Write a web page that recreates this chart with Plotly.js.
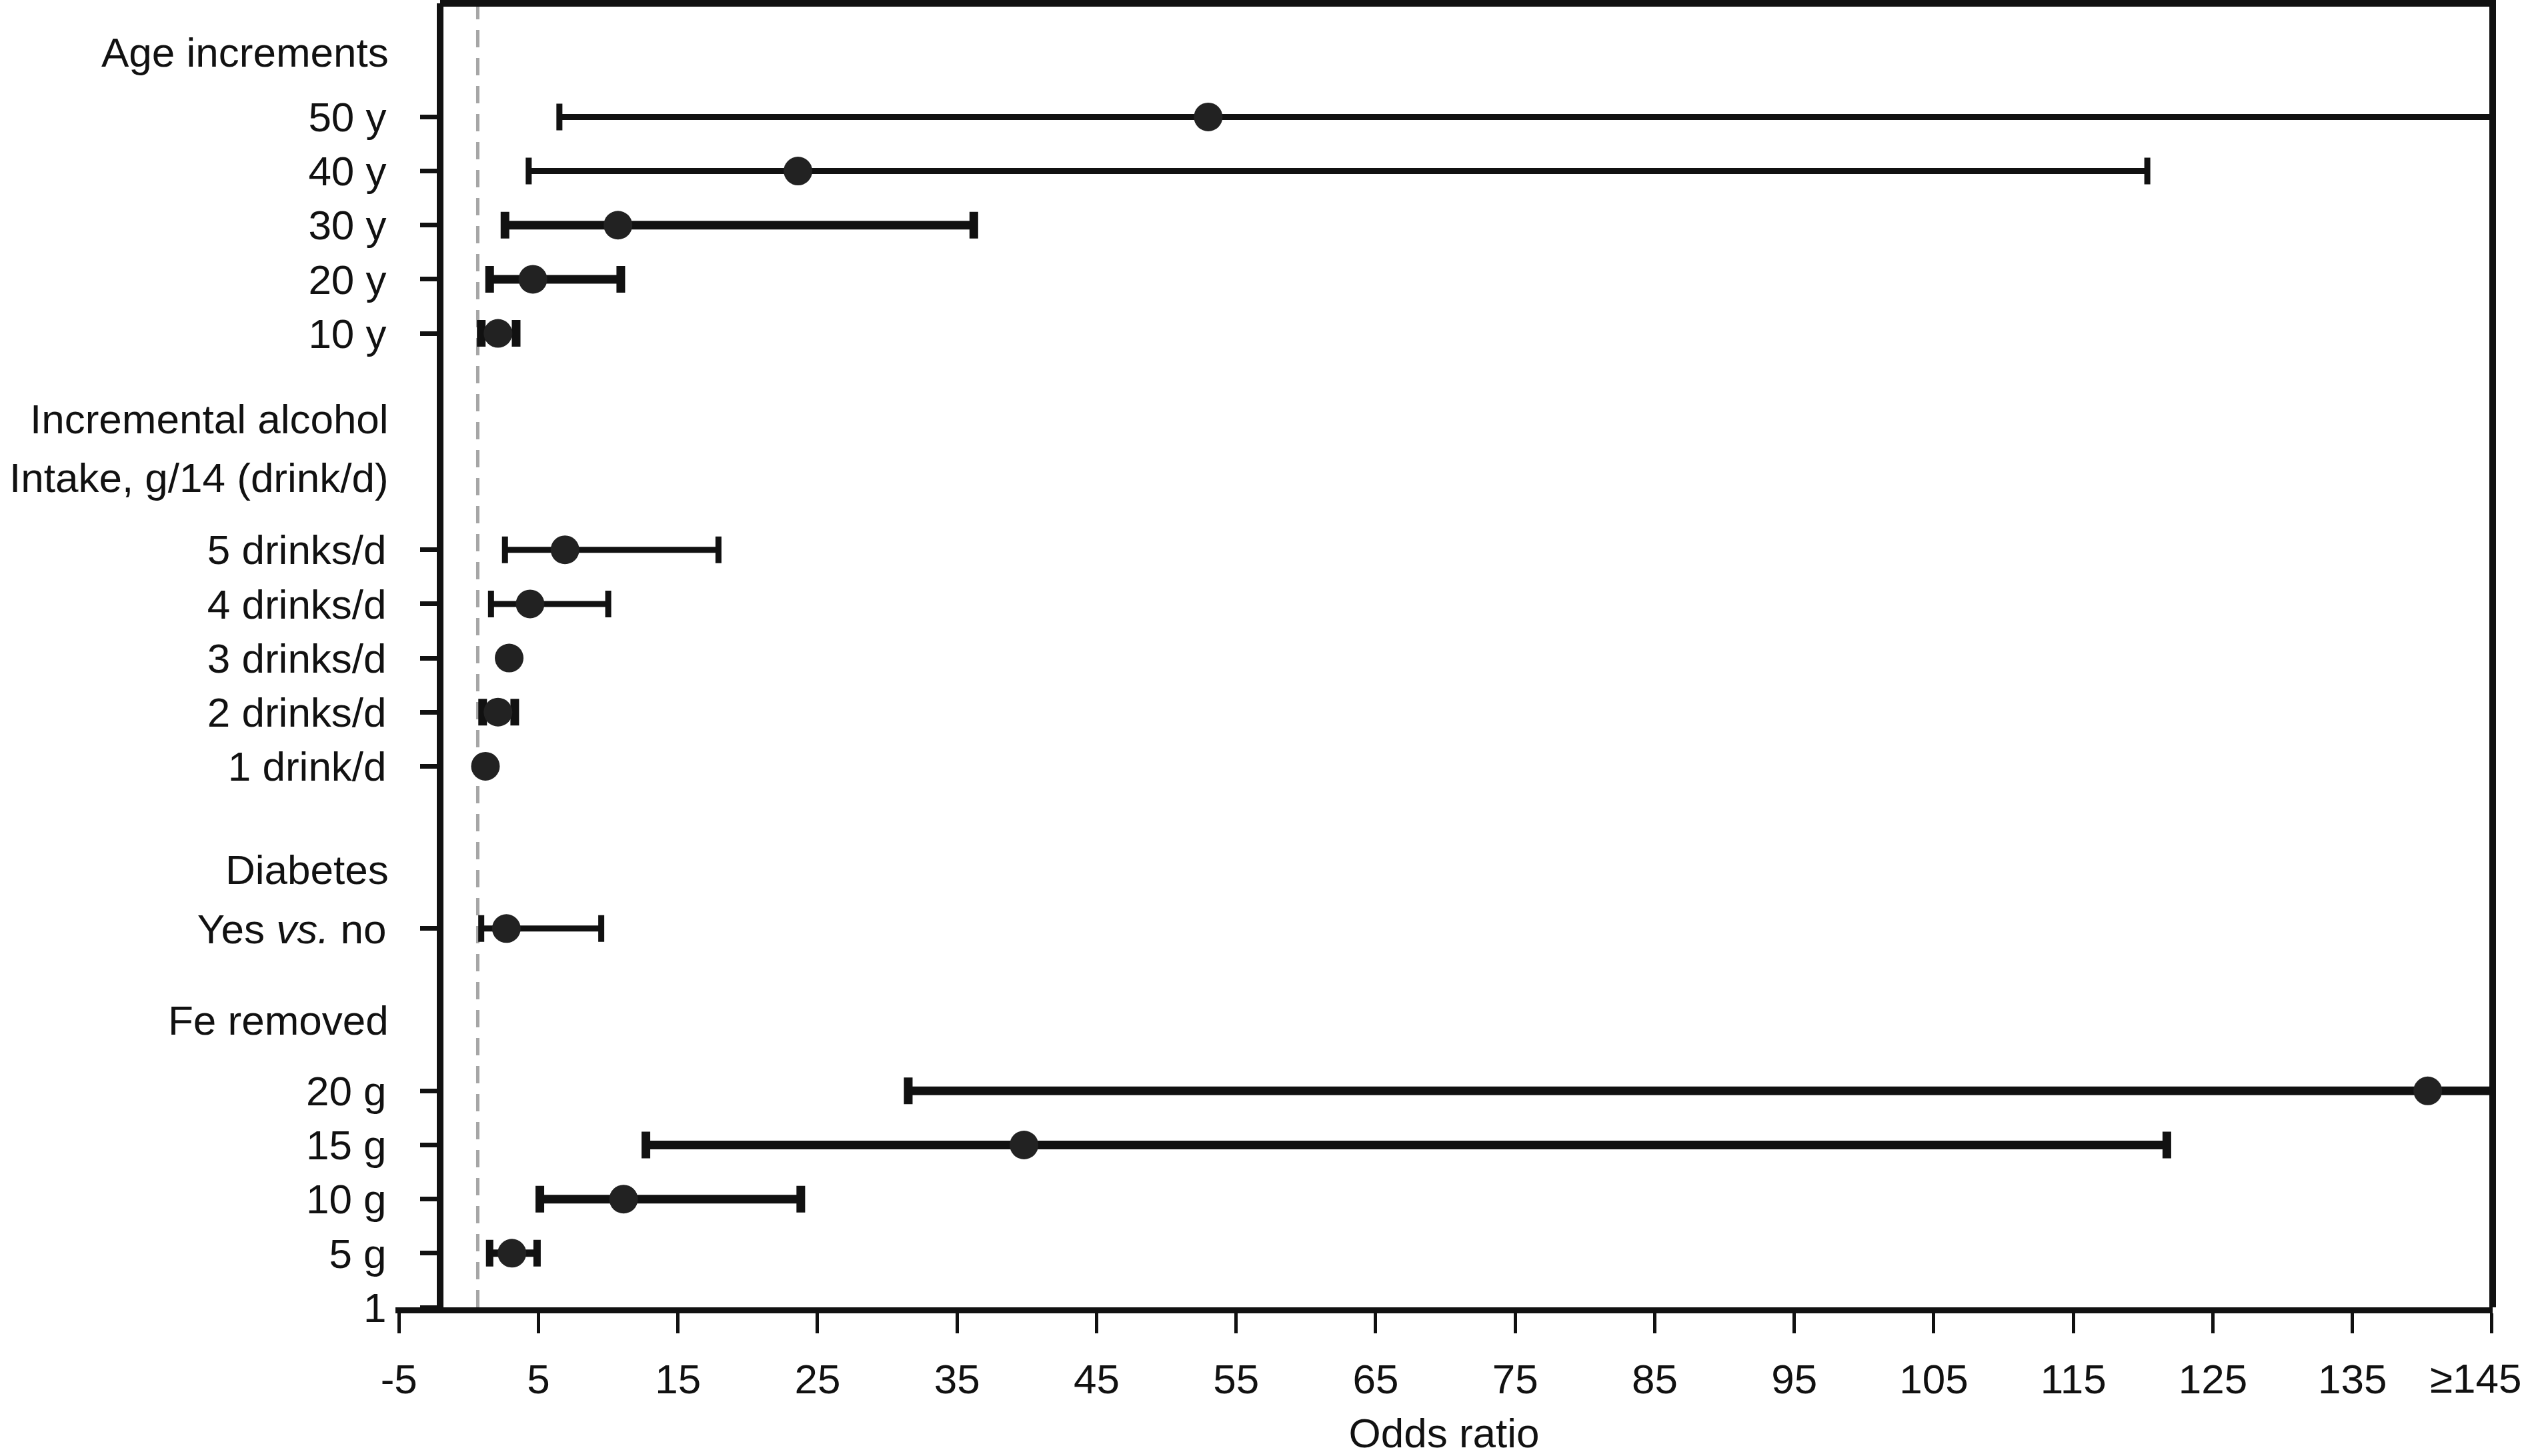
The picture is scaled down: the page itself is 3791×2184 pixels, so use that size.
<!DOCTYPE html>
<html>
<head>
<meta charset="utf-8">
<script src="https://cdn.plot.ly/plotly-3.0.1.min.js"></script>
<style>
  html, body { margin: 0; padding: 0; background: #ffffff; }
  #chart { width: 3791px; height: 2184px; }
</style>
</head>
<body>
<div id="chart"></div>
<script>
// ---------------- DATA ----------------
// Row labels (top to bottom) and their row index on the y scale (0 = axis row "1")
const rowLabels = ["50 y", "40 y", "30 y", "20 y", "10 y",
  "5 drinks/d", "4 drinks/d", "3 drinks/d", "2 drinks/d", "1 drink/d",
  "Yes <i>vs.</i> no",
  "20 g", "15 g", "10 g", "5 g"];
const rowIndex = [22, 21, 20, 19, 18, 14, 13, 12, 11, 10, 7, 4, 3, 2, 1];

// Odds ratios and 95% CI (null = no interval drawn)
const oddsRatio = [53.0, 23.6, 10.7, 4.6, 2.1, 6.9, 4.4, 2.9, 2.1, 1.2, 2.7, 140.4, 39.8, 11.1, 3.1];
const ciLower   = [6.5, 4.3, 2.6, 1.5, 0.9, 2.6, 1.6, null, 1.0, null, 0.9, 31.5, 12.7, 5.1, 1.5];
const ciUpper   = [170, 120.3, 36.2, 10.9, 3.4, 17.9, 10.0, null, 3.3, null, 9.5, 170, 121.7, 23.8, 4.9]; // 170 = beyond axis (≥145)

// Group headers
const headerLabels = ["Age increments", "Incremental alcohol", "Intake, g/14 (drink/d)", "Diabetes", "Fe removed"];
const headerRow    = [23.2, 16.42, 15.33, 8.09, 5.31];

// Axis ticks
const xTickVals = [-5, 5, 15, 25, 35, 45, 55, 65, 75, 85, 95, 105, 115, 125, 135, 145];
const xTickText = ["-5", "5", "15", "25", "35", "45", "55", "65", "75", "85", "95", "105", "115", "125", "135", "≥145"];
const bottomRowLabel = "1";
const referenceOR = 0.65;

// ---------------- STYLE ----------------
const FONT = "Liberation Sans, Arial, Helvetica, sans-serif";
const INK = "#111111";
const errThickness = [9, 9, 13, 13, 13, 9, 9, 9, 13, 9, 9, 13, 13, 13, 11];

const traces = rowLabels.map((lab, i) => {
  const hasCI = ciLower[i] !== null && ciUpper[i] !== null;
  return {
    type: "scatter",
    mode: "markers",
    x: [oddsRatio[i]],
    y: [rowIndex[i]],
    name: lab,
    hoverinfo: "skip",
    marker: { color: "#222222", size: 43, symbol: "circle", line: { width: 0 } },
    error_x: hasCI ? {
      type: "data",
      symmetric: false,
      array: [ciUpper[i] - oddsRatio[i]],
      arrayminus: [oddsRatio[i] - ciLower[i]],
      color: INK,
      thickness: errThickness[i],
      width: 20
    } : { visible: false }
  };
});

const yAxisPos = 0.0213;
const lastTick = xTickVals.length - 1;

const annotations = headerLabels.map((h, i) => ({
  text: h,
  xref: "paper", yref: "y",
  x: -0.0025, y: headerRow[i],
  xanchor: "right", yanchor: "middle",
  showarrow: false,
  font: { family: FONT, size: 62, color: INK }
}));
// last x tick label, nudged left so it stays inside the figure as in the original
annotations.push({
  text: xTickText[lastTick],
  xref: "x", yref: "paper",
  x: xTickVals[lastTick], y: 0,
  xanchor: "center", yanchor: "middle",
  xshift: -24, yshift: -106,
  showarrow: false,
  font: { family: FONT, size: 62, color: INK }
});

const layout = {
  width: 3791,
  height: 2184,
  margin: { l: 593, r: 53, t: 5, b: 223, pad: 0 },
  paper_bgcolor: "#ffffff",
  plot_bgcolor: "#ffffff",
  showlegend: false,
  font: { family: FONT, size: 62, color: INK },
  xaxis: {
    range: [-5.25, 145.05],
    tickmode: "array",
    tickvals: xTickVals,
    ticktext: xTickText.slice(0, lastTick).concat([""]),
    showline: true, linewidth: 9, linecolor: INK,
    ticks: "outside", ticklen: 30, tickwidth: 5, tickcolor: INK,
    showgrid: false, zeroline: false,
    tickfont: { family: FONT, size: 62, color: INK },
    ticklabelstandoff: 16,
    title: { text: "Odds ratio", font: { family: FONT, size: 62, color: INK }, standoff: 40 }
  },
  yaxis: {
    range: [0, 24.1],
    anchor: "free",
    position: yAxisPos,
    tickmode: "array",
    tickvals: rowIndex.concat([0]),
    ticktext: rowLabels.concat([bottomRowLabel]),
    showline: true, linewidth: 10, linecolor: INK,
    ticks: "outside", ticklen: 25, tickwidth: 7, tickcolor: INK,
    showgrid: false, zeroline: false,
    tickfont: { family: FONT, size: 62, color: INK },
    ticklabelstandoff: 38
  },
  shapes: [
    { type: "line", xref: "x", yref: "paper", x0: referenceOR, x1: referenceOR, y0: 0, y1: 1,
      line: { color: "#a6a6a6", width: 5, dash: "26px,16px" }, layer: "below" },
    { type: "path", xref: "paper", yref: "paper",
      path: "M " + yAxisPos + " 1 L 1 1 L 1 0",
      line: { color: INK, width: 10 } }
  ],
  annotations: annotations
};

Plotly.newPlot("chart", traces, layout, { displayModeBar: false, staticPlot: true });
</script>
</body>
</html>
